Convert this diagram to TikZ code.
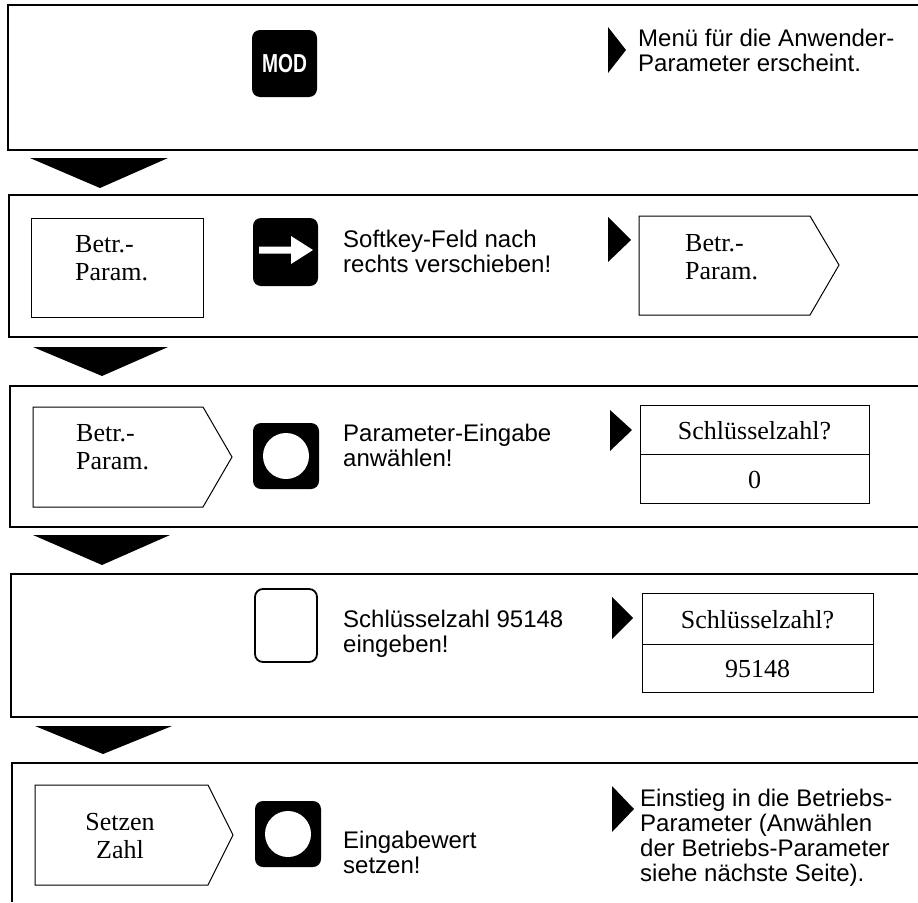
\documentclass[tikz,border=0pt]{standalone}
\usepackage{fontspec}
\setmainfont{Liberation Serif}
\setsansfont{Liberation Sans}
\newcommand{\twol}[1]{\begin{tabular}[t]{@{}l@{}}#1\end{tabular}}
\newcommand{\twoc}[1]{\begin{tabular}[t]{@{}c@{}}#1\end{tabular}}
\tikzset{
  panel/.style={line width=1.2pt},
  flowarrow/.style={fill=black},
  bulletmark/.style={fill=black},
  blackkey/.style={fill=black, rounded corners=8pt, minimum width=65pt, minimum height=67pt, inner sep=0pt},
  blankkey/.style={draw=black, line width=1.8pt, rounded corners=8pt, minimum width=62pt, minimum height=73pt, inner sep=0pt},
  softframe/.style={line width=1pt},
  sanstext/.style={font=\sffamily\fontsize{24}{25}\selectfont, inner sep=0pt, anchor=base west},
  seriftext/.style={font=\rmfamily\fontsize{26}{28}\selectfont, inner sep=0pt, anchor=base},
  modtext/.style={font=\sffamily\bfseries\fontsize{26}{26}\selectfont, text=white, xscale=0.74},
}
\begin{document}
\begin{tikzpicture}[x=1pt,y=-1pt]
\useasboundingbox (0,0) rectangle (918,902);
\fill[white] (0,0) rectangle (918,902);

% ---------- panels ----------
\draw[panel] (918,5) -- (8,5) -- (8,150) -- (918,150);
\draw[panel] (918,195) -- (9,195) -- (9,337) -- (918,337);
\draw[panel] (918,386) -- (10,386) -- (10,527) -- (918,527);
\draw[panel] (918,574) -- (11,574) -- (11,717) -- (918,717);
\draw[panel] (918,763) -- (12,763) -- (12,902);

% ---------- flow arrows between panels ----------
\fill[flowarrow] (30,158) -- (168,158) -- (100,188) -- cycle;
\fill[flowarrow] (33,347) -- (168,347) -- (102,376) -- cycle;
\fill[flowarrow] (33,535) -- (170,535) -- (102,565) -- cycle;
\fill[flowarrow] (35,726) -- (172,726) -- (103,754) -- cycle;

% ---------- panel 1 ----------
\node[blackkey] (modkey) at (284.5,63.5) {};
\node[modtext] (modlabel) at (modkey.center) {MOD};
\fill[bulletmark] (608,27) -- (626,50) -- (608,73) -- cycle;
\node[sanstext] (txt1) at (638,46) {\twol{Menü für die Anwender-\\Parameter erscheint.}};

% ---------- panel 2 ----------
\draw[softframe] (31,218) rectangle (203,317);
\node[seriftext, anchor=base west] (sk1) at (75,252) {\twol{Betr.-\\Param.}};
\node[blackkey, minimum height=68pt] (arrowkey) at (285.5,252) {};
\fill[white] (259,246.5) -- (291,246.5) -- (291,236) -- (313,250) -- (291,264) -- (291,253.5) -- (259,253.5) -- cycle;
\node[sanstext] (txt2) at (343,247) {\twol{Softkey-Feld nach\\rechts verschieben!}};
\fill[bulletmark] (608,217) -- (631,240) -- (608,262) -- cycle;
\draw[softframe] (639,216) -- (810,216) -- (839,265) -- (810,315) -- (639,315) -- cycle;
\node[seriftext, anchor=base west] (sk2) at (685,251) {\twol{Betr.-\\Param.}};

% ---------- panel 3 ----------
\draw[softframe] (33,407) -- (203,407) -- (232,457) -- (203,507) -- (33,507) -- cycle;
\node[seriftext, anchor=base west] (sk3) at (76,441) {\twol{Betr.-\\Param.}};
\node[blackkey, minimum width=66pt, minimum height=66pt] (entkey1) at (286,456) {};
\fill[white] (entkey1.center) circle (23);
\node[sanstext] (txt3) at (343,441) {\twol{Parameter-Eingabe\\anwählen!}};
\fill[bulletmark] (610,410) -- (632,430) -- (610,451) -- cycle;
\draw[softframe] (640,405) rectangle (869,503);
\draw[softframe] (640,454) -- (869,454);
\node[seriftext] (q1) at (754.5,439) {Schlüsselzahl?};
\node[seriftext] (v1) at (754.5,488) {0};

% ---------- panel 4 ----------
\node[blankkey] (numkey) at (286,625.5) {};
\node[sanstext] (txt4) at (343,627) {\twol{Schlüsselzahl 95148\\eingeben!}};
\fill[bulletmark] (612,597) -- (633,618) -- (612,639) -- cycle;
\draw[softframe] (642,593) rectangle (873,692);
\draw[softframe] (642,644) -- (873,644);
\node[seriftext] (q2) at (757.5,628) {Schlüsselzahl?};
\node[seriftext] (v2) at (757.5,677) {95148};

% ---------- panel 5 ----------
\draw[softframe] (35,785) -- (208,785) -- (233,835) -- (208,885) -- (35,885) -- cycle;
\node[seriftext] (sk5) at (120,830) {\twoc{Setzen\\Zahl}};
\node[blackkey, minimum width=66pt, minimum height=66pt] (entkey2) at (288,834) {};
\fill[white] (entkey2.center) circle (23);
\node[sanstext] (txt5) at (343,848) {\twol{Eingabewert\\setzen!}};
\fill[bulletmark] (612,786) -- (634,809) -- (612,832) -- cycle;
\node[sanstext] (txt6) at (640,806) {\twol{Einstieg in die Betriebs-\\Parameter (Anwählen\\der Betriebs-Parameter\\siehe nächste Seite).}};
\end{tikzpicture}
\end{document}
